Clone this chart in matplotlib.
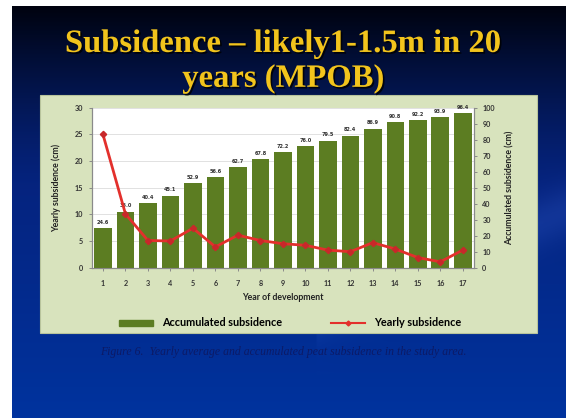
import matplotlib
matplotlib.use("Agg")
import matplotlib.pyplot as plt
import matplotlib.patheffects as pe
from matplotlib.patches import Rectangle
from matplotlib.lines import Line2D
import numpy as np

# Data
years = list(range(1, 18))
accumulated = [24.6, 35.0, 40.4, 45.1, 52.9, 56.6, 62.7, 67.8, 72.2, 76.0,
               79.5, 82.4, 86.9, 90.8, 92.2, 93.9, 96.4]
yearly = [25.0, 10.1, 5.1, 5.0, 7.4, 3.9, 6.1, 5.1, 4.5, 4.2,
          3.3, 3.0, 4.7, 3.5, 1.9, 1.1, 3.3]

TITLE = "Subsidence \u2013 likely1-1.5m in 20\nyears (MPOB)"
CAPTION = "Figure 6.  Yearly average and accumulated peat subsidence in the study area."

W, H = 566, 418
fig = plt.figure(figsize=(W / 100, H / 100), dpi=100)
fig.patch.set_facecolor("white")

# --- slide background (dark gradient to royal blue) ---
bg = fig.add_axes([12 / W, 0, 1 - 12 / W, 1 - 6 / H])
bg.set_axis_off()
ny, nx = 200, 200
t = np.linspace(0, 1, ny)[:, None] * np.ones((1, nx))
top = np.array([0.0, 0.01, 0.06])
mid = np.array([0.02, 0.14, 0.50])
bot = np.array([0.0, 0.20, 0.62])
w = np.clip(t / 0.45, 0, 1)[..., None]
img = top * (1 - w) ** 1.3 + mid * (1 - (1 - w) ** 1.3)
w2 = np.clip((t - 0.45) / 0.55, 0, 1)[..., None]
img = img * (1 - w2) + bot * w2
# faint swoosh lower right
xx = np.linspace(0, 1, nx)[None, :] * np.ones((ny, 1))
swoosh = np.exp(-((t - (1.05 - 0.55 * xx)) ** 2) / 0.004) * (xx > 0.55)
img = img + swoosh[..., None] * np.array([0.05, 0.06, 0.08])
bg.imshow(np.clip(img, 0, 1), aspect="auto", extent=[0, 1, 0, 1])
bg.set_xlim(0, 1)
bg.set_ylim(0, 1)

fig.text(0.5, 1 - 61 / H, TITLE, ha="center", va="center", color="#f2c41c",
         fontsize=23.5, fontweight="bold", family="Liberation Serif",
         linespacing=1.16,
         path_effects=[pe.withSimplePatchShadow(offset=(1.2, -1.2),
                                                shadow_rgbFace="black", alpha=0.8)])

fig.text(0.5, 1 - 352 / H, CAPTION, ha="center", va="center", color="#0c1a66",
         fontsize=8.5, style="italic", family="Liberation Serif")

# --- chart panel ---
panel = Rectangle((40 / W, 1 - 333 / H), 497 / W, 238 / H,
                  transform=fig.transFigure, facecolor="#d8e3bd",
                  edgecolor="#b8c49c", linewidth=0.8, zorder=1)
fig.patches.append(panel)

ax = fig.add_axes([91.7 / W, 1 - 267.7 / H, 382.3 / W, 160 / H])
ax.set_facecolor("white")
ax2 = ax.twinx()
ax3 = ax.twinx()
ax.set_zorder(3)
ax2.set_zorder(4)
ax3.set_zorder(5)
ax2.patch.set_visible(False)
ax3.patch.set_visible(False)
ax2.yaxis.tick_right()
ax2.yaxis.set_label_position("right")

ax2.bar(years, accumulated, width=0.78, color="#5c7d22", zorder=2)
for x, v in zip(years, accumulated):
    ax2.text(x, v + 2.2, f"{v:.1f}", ha="center", va="bottom",
             fontsize=3.6, fontweight="bold", color="#333333")
ax2.set_ylim(0, 100)
ax2.set_yticks(range(0, 101, 10))

ax.set_ylim(0, 30)
ax.set_yticks(range(0, 31, 5))
ax.set_xlim(0.5, 17.5)
ax.set_xticks(years)
ax.yaxis.grid(True, color="#dcdcdc", linewidth=0.6)
ax.set_axisbelow(True)

# yearly line drawn on top of bars
ax3.set_ylim(0, 30)
ax3.set_axis_off()
ax3.plot(years, yearly, color="#e3302c", linewidth=2.0, marker="D",
         markersize=3.2, markerfacecolor="#c8282a", markeredgecolor="#c8282a")

for a in (ax, ax2):
    for s in a.spines.values():
        s.set_color("#8a8a8a")
        s.set_linewidth(0.8)
    a.spines["top"].set_visible(False)
    a.tick_params(colors="#8a8a8a", length=2.5, width=0.7, labelsize=5.2,
                  labelcolor="#333333")

ax.set_xlabel("Year of development", fontsize=6.3, fontweight="bold",
              color="#222222", labelpad=5, family="Lato")
ax.set_ylabel("Yearly subsidence (cm)", fontsize=6.3, fontweight="bold",
              color="#222222", labelpad=10, family="Lato")
ax2.set_ylabel("Accumulated subsidence (cm)", fontsize=6.3, fontweight="bold",
               color="#222222", labelpad=8, family="Lato")
for lab in ax.get_xticklabels() + ax.get_yticklabels() + ax2.get_yticklabels():
    lab.set_fontweight("bold")
    lab.set_family("Lato")
ax.tick_params(axis="x", pad=6)

handles = [Rectangle((0, 0), 1, 1, color="#5c7d22"),
           Line2D([0], [0], color="#e3302c", linewidth=1.5, marker="D",
                  markersize=2.5)]
fig.legend(handles, ["Accumulated subsidence", "Yearly subsidence"],
           loc="center", bbox_to_anchor=(290 / W, 1 - 323 / H), ncol=2,
           frameon=False, handlelength=3.2, handleheight=0.5,
           columnspacing=4.5, prop={"family": "Lato", "weight": "bold", "size": 7.8})

fig.savefig("out.png", dpi=100)
